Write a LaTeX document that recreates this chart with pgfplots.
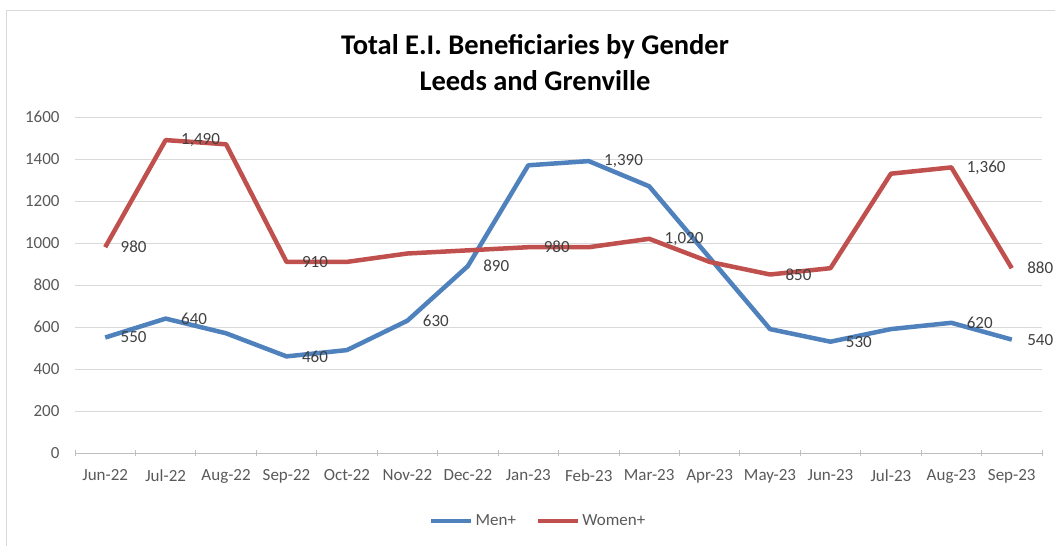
\documentclass[border=0pt]{standalone}
\usepackage{pgfplots}
\pgfplotsset{compat=1.18}
\usepackage{fontspec}
\setmainfont{Carlito}
\definecolor{menc}{HTML}{4F81BD}
\definecolor{womc}{HTML}{C0504D}
\definecolor{gridc}{HTML}{D9D9D9}
\definecolor{tickc}{HTML}{595959}
\definecolor{labc}{HTML}{404040}
\definecolor{axc}{HTML}{BFBFBF}
\begin{document}
\begin{tikzpicture}
\path[use as bounding box] (0,0) rectangle (1055bp,546bp);
\draw[gridc] (6bp,0bp) -- (6bp,536bp) -- (1055bp,536bp);
\node[font=\fontsize{28.5bp}{31bp}\selectfont\bfseries, text=black] at (535bp,499bp) {Total E.I. Beneficiaries by Gender};
\node[font=\fontsize{28.5bp}{31bp}\selectfont\bfseries, text=black] at (535bp,465bp) {Leeds and Grenville};
\begin{axis}[
  at={(75bp,93bp)}, anchor=south west,
  scale only axis, width=967bp, height=336bp,
  xmin=-0.5, xmax=15.5, ymin=0, ymax=1600,
  ytick={0,200,...,1600},
  xtick={0,...,15},
  xticklabels={Jun-22,Jul-22,Aug-22,Sep-22,Oct-22,Nov-22,Dec-22,Jan-23,Feb-23,Mar-23,Apr-23,May-23,Jun-23,Jul-23,Aug-23,Sep-23},
  minor xtick={-0.5,0.5,...,15.5},
  major tick length=0pt, minor tick length=6bp, tick align=outside,
  axis x line=bottom, axis y line=left,
  x axis line style={-, draw=axc, line width=0.8bp},
  y axis line style={draw=none},
  minor tick style={draw=axc, line width=0.8bp},
  ymajorgrids, major grid style={gridc, line width=0.8bp},
  /pgf/number format/assume math mode=true,
  /pgf/number format/1000 sep={},
  ticklabel style={font=\fontsize{17bp}{19bp}\selectfont, text=tickc},
  yticklabel style={xshift=-12bp},
  xticklabel style={yshift=-13bp},
  legend style={at={(0.479,-0.202)}, anchor=center, draw=none, fill=none,
    legend columns=2, font=\fontsize{17bp}{19bp}\selectfont, text=tickc,
    /tikz/every even column/.append style={column sep=18bp}},
  legend image code/.code={\draw[#1, line width=4.5bp] (0bp,0bp) -- (40bp,0bp);},
  clip=false,
]
\addplot[menc, line width=4.5bp, line join=round] coordinates {
(0,550) (1,640) (2,570) (3,460) (4,490) (5,630) (6,890) (7,1370) (8,1390) (9,1270) (10,930) (11,590) (12,530) (13,590) (14,620) (15,540)};
\addlegendentry{Men+}
\addplot[womc, line width=4.5bp, line join=round] coordinates {
(0,980) (1,1490) (2,1470) (3,910) (4,910) (5,950) (6,965) (7,980) (8,980) (9,1020) (10,910) (11,850) (12,880) (13,1330) (14,1360) (15,880)};
\addlegendentry{Women+}
\addplot[draw=none, forget plot,
  nodes near coords={\pgfmathprintnumber[1000 sep={,}, assume math mode=true]{\pgfplotspointmeta}},
  nodes near coords style={anchor=west, xshift=12bp, font=\fontsize{17bp}{19bp}\selectfont, text=labc}]
coordinates {(0,550) (1,640) (3,460) (5,630) (6,890) (8,1390) (12,530) (14,620) (15,540)};
\addplot[draw=none, forget plot,
  nodes near coords={\pgfmathprintnumber[1000 sep={,}, assume math mode=true]{\pgfplotspointmeta}},
  nodes near coords style={anchor=west, xshift=12bp, font=\fontsize{17bp}{19bp}\selectfont, text=labc}]
coordinates {(0,980) (1,1490) (3,910) (7,980) (9,1020) (11,850) (14,1360) (15,880)};
\end{axis}
\end{tikzpicture}
\end{document}
